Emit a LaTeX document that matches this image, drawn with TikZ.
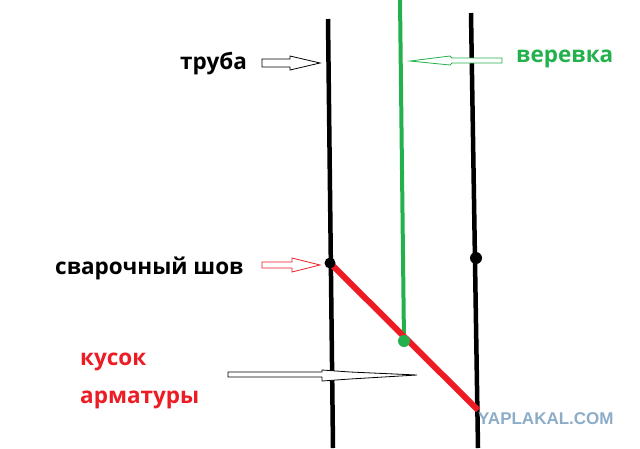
\documentclass[tikz,border=0pt]{standalone}
\usepackage{fontspec}
\setmainfont{Open Sans}
\newfontfamily\wmfont{Liberation Sans}
\definecolor{pgreen}{RGB}{34,177,76}
\definecolor{pred}{RGB}{237,28,36}
\definecolor{wmblue}{RGB}{140,172,200}
\begin{document}
\begin{tikzpicture}[x=1pt,y=-1pt,
  lbl/.style={anchor=base west,inner sep=0pt,font=\fontsize{22.5}{27}\selectfont\bfseries},
  pipe/.style={line width=4.5pt,black},
  hollow/.style={draw=#1,fill=white,line width=0.8pt,line join=miter},
  hollow/.default=black]
\useasboundingbox (0,0) rectangle (640,448);
% pipe walls
\coordinate (lt) at (328,19); \coordinate (lb) at (333,448);
\coordinate (rt) at (471,13); \coordinate (rb) at (478,448);
\coordinate (gt) at (400,0);
\coordinate (w1) at (330,263); \coordinate (w2) at (476,258);
\coordinate (knot) at (404,341); \coordinate (rend) at (478,410);
\draw[pipe] (lt) -- (lb);
\draw[pipe] (rt) -- (rb);
\draw[pgreen,line width=4pt] (gt) -- (knot);
\draw[pred,line width=6pt] (w1) -- (rend);
\fill (w1) circle (5.5);
\fill (w2) circle (6);
\fill[pgreen] (knot) circle (6);
% labels
\node[lbl] (truba) at (180,69) {труба};
\node[lbl,text=pgreen] (verevka) at (516,62) {веревка};
\node[lbl] (shov) at (55,274) {сварочный шов};
\node[lbl,text=pred] (kusok) at (80,365) {кусок};
\node[lbl,text=pred] (arm) at (80,403) {арматуры};
% hollow arrows
\draw[hollow] (262,59) -- (290,59) -- (290,56) -- (320,63) -- (290,70) -- (290,67) -- (262,67) -- cycle;
\draw[hollow=pgreen] (410,61) -- (450,56) -- (452,58) -- (502,58) -- (502,63) -- (452,63) -- (450,65) -- cycle;
\draw[hollow=pred] (262,262) -- (292,262) -- (292,258) -- (320,265) -- (292,272) -- (292,268) -- (262,268) -- cycle;
\draw[hollow] (228,372) -- (322,372) -- (322,370) -- (350,372) -- (417,375) -- (350,379) -- (322,381) -- (322,377) -- (228,377) -- cycle;
% watermark
\node[anchor=base west,inner sep=0pt,text=wmblue,font=\wmfont\fontsize{17}{20}\selectfont\bfseries] (wm) at (478,424) {YAPLAKAL.COM};
\end{tikzpicture}
\end{document}
